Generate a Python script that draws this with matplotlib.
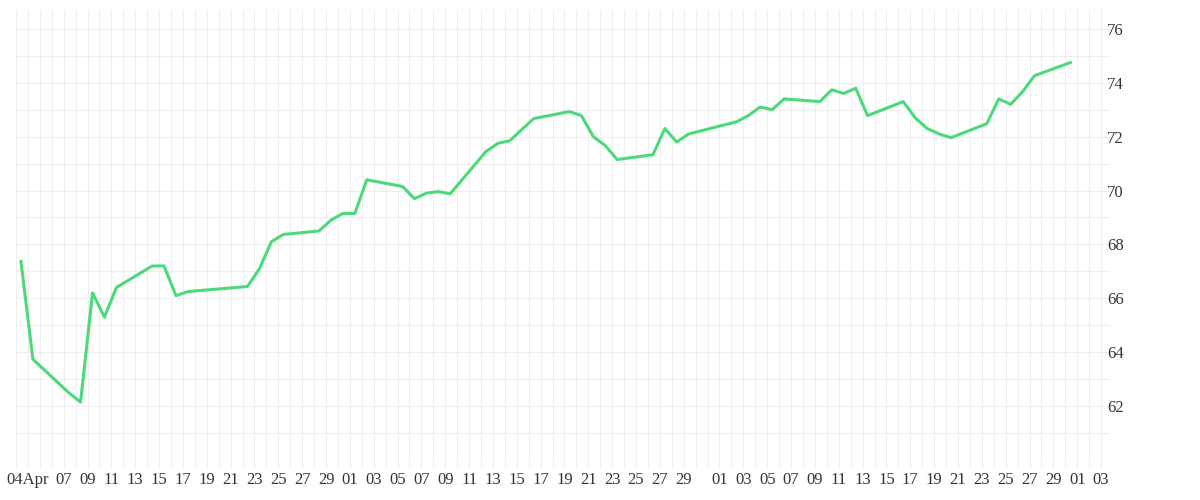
import matplotlib
matplotlib.use("Agg")
import matplotlib.pyplot as plt
import matplotlib.dates as mdates
import pandas as pd

dates = ["04-03","04-04","04-07","04-08","04-09","04-10","04-11","04-14","04-15","04-16","04-17",
         "04-22","04-23","04-24","04-25","04-28","04-29","04-30","05-01","05-02","05-05","05-06",
         "05-07","05-08","05-09","05-12","05-13","05-14","05-16","05-19","05-20","05-21","05-22",
         "05-23","05-26","05-27","05-28","05-29","06-02","06-03","06-04","06-05","06-06","06-09",
         "06-10","06-11","06-12","06-13","06-16","06-17","06-18","06-19","06-20","06-23","06-24",
         "06-25","06-26","06-27","06-30"]
values = [67.37,63.74,62.5,62.15,66.2,65.3,66.4,67.2,67.2,66.1,66.25,
          66.44,67.1,68.1,68.37,68.5,68.9,69.15,69.15,70.4,70.15,69.7,
          69.9,69.96,69.88,71.45,71.75,71.85,72.67,72.93,72.78,72.0,71.67,
          71.15,71.33,72.3,71.8,72.1,72.55,72.78,73.1,73.0,73.4,73.3,
          73.74,73.6,73.8,72.78,73.3,72.7,72.3,72.1,71.96,72.48,73.4,
          73.2,73.67,74.26,74.75]
yticks = [62, 64, 66, 68, 70, 72, 74, 76]

x = pd.to_datetime(["2020-" + d for d in dates]) + pd.Timedelta(hours=10)

fig = plt.figure(figsize=(12, 5), dpi=100)
ax = fig.add_axes([15/1200, 0.08, 1095/1200, 0.90])
ax.plot(x, values, color="#4cd97b", lw=2.2, zorder=3)

ax.set_ylim(60.0, 76.7)
ax.set_xlim(pd.Timestamp("2020-04-02 22:00"), pd.Timestamp("2020-07-03 18:00"))
ax.set_yticks(yticks)
ax.set_yticks(range(61, 77), minor=True)
ax.yaxis.tick_right()

ticks = [pd.Timestamp("2020-04-04")]
labels = ["04Apr"]
for m, last in [(4, 30), (5, 30), (6, 30), (7, 3)]:
    for d in range(1, last + 1, 2):
        t = pd.Timestamp(2020, m, d)
        if t <= pd.Timestamp("2020-04-05"):
            continue
        ticks.append(t)
        labels.append(f"{d:02d}")
ax.set_xticks(ticks)
ax.set_xticklabels(labels)
ax.xaxis.set_minor_locator(mdates.DayLocator())

ax.grid(True, which="both", color="#eeeeee", lw=0.8)
for s in ax.spines.values():
    s.set_visible(False)
ax.tick_params(axis="x", which="both", length=6, color="#eeeeee", labelsize=12, pad=3)
ax.tick_params(axis="y", which="both", length=0, labelsize=12, pad=-2)
for lab in ax.get_xticklabels() + ax.get_yticklabels():
    lab.set_family("Liberation Serif")
    lab.set_color("#333333")
fig.savefig("out.png", dpi=100, facecolor="white")
